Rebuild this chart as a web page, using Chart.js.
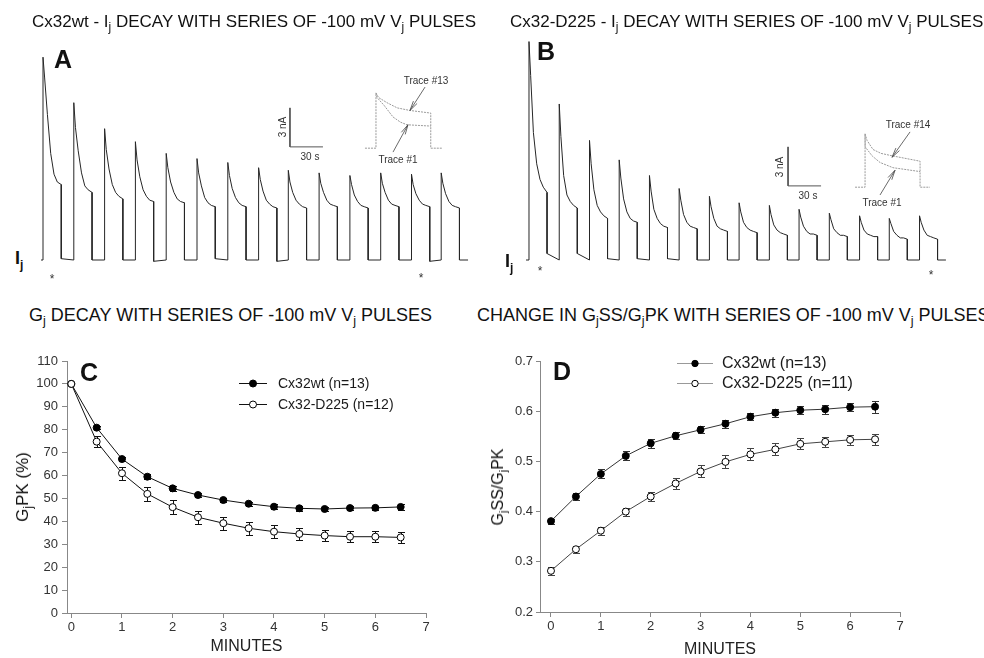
<!DOCTYPE html>
<html lang="en">
<head>
<meta charset="UTF-8">
<title>Gap junction decay with -100 mV Vj pulses</title>
<script src="https://cdn.jsdelivr.net/npm/chart.js"></script>
<style>
  body { margin: 0; background: #fff; }
  #page { position: relative; width: 984px; height: 658px; overflow: hidden;
          font-family: Arial, "Liberation Sans", sans-serif; color: #111; }
  canvas { position: absolute; }
  .txt { position: absolute; white-space: nowrap; }
  .title { font-size: 17px; line-height: 20px; }
  .title.big { font-size: 18px; }
  .title sub, .lab sub { font-size: 0.7em; vertical-align: -0.35em; line-height: 0; }
  .letter { font-size: 25px; line-height: 25px; font-weight: bold; }
  .small { font-size: 10px; line-height: 12px; color: #333; transform: translate(-50%, -50%); }
  .lab { transform: translate(-50%, -50%) rotate(-90deg); }
</style>
</head>
<body>
<div id="page">
  <canvas id="chartA" width="450" height="250" style="left:30px; top:30px"></canvas>
  <canvas id="chartB" width="450" height="250" style="left:510px; top:30px"></canvas>
  <canvas id="chartC" width="460" height="318" style="left:0px; top:340px"></canvas>
  <canvas id="chartD" width="500" height="318" style="left:470px; top:340px"></canvas>

  <!-- titles -->
  <div class="txt title" style="left:32px; top:12px">Cx32wt - I<sub>j</sub> DECAY WITH SERIES OF -100 mV V<sub>j</sub> PULSES</div>
  <div class="txt title" style="left:510px; top:12px">Cx32-D225 - I<sub>j</sub> DECAY WITH SERIES OF -100 mV V<sub>j</sub> PULSES</div>
  <div class="txt title big" style="left:29px; top:305px">G<sub>j</sub> DECAY WITH SERIES OF -100 mV V<sub>j</sub> PULSES</div>
  <div class="txt title big" style="left:477px; top:305px">CHANGE IN G<sub>j</sub>SS/G<sub>j</sub>PK WITH SERIES OF -100 mV V<sub>j</sub> PULSES</div>

  <!-- panel letters -->
  <div class="txt letter" style="left:54px; top:47px">A</div>
  <div class="txt letter" style="left:537px; top:39px">B</div>
  <div class="txt letter" style="left:80px; top:360px">C</div>
  <div class="txt letter" style="left:553px; top:359px">D</div>

  <!-- Ij labels and markers -->
  <div class="txt" style="left:15px; top:249px; font-size:18px; line-height:18px; font-weight:bold">I<sub style="font-size:12px; vertical-align:-0.45em">j</sub></div>
  <div class="txt" style="left:505px; top:252px; font-size:18px; line-height:18px; font-weight:bold">I<sub style="font-size:12px; vertical-align:-0.45em">j</sub></div>
  <div class="txt small" style="left:52px; top:279px; font-size:12px">*</div>
  <div class="txt small" style="left:421px; top:278px; font-size:12px">*</div>
  <div class="txt small" style="left:540px; top:271px; font-size:12px">*</div>
  <div class="txt small" style="left:931px; top:275px; font-size:12px">*</div>

  <!-- scale bars and inset labels -->
  <div class="txt small" style="left:283px; top:127px; transform:translate(-50%,-50%) rotate(-90deg)">3 nA</div>
  <div class="txt small" style="left:310px; top:157px">30 s</div>
  <div class="txt small" style="left:426px; top:81px">Trace #13</div>
  <div class="txt small" style="left:398px; top:160px">Trace #1</div>
  <div class="txt small" style="left:780px; top:167px; transform:translate(-50%,-50%) rotate(-90deg)">3 nA</div>
  <div class="txt small" style="left:808px; top:196px">30 s</div>
  <div class="txt small" style="left:908px; top:125px">Trace #14</div>
  <div class="txt small" style="left:882px; top:203px">Trace #1</div>

  <!-- y axis titles -->
  <div class="txt lab" style="left:23px; top:487px; font-size:17px">G<sub>j</sub>PK (%)</div>
  <div class="txt lab" style="left:498px; top:487px; font-size:16px">G<sub>j</sub>SS/G<sub>j</sub>PK</div>
</div>

<script>
// ---- panels A / B : junctional current traces (time in s, current in nA) ----
const pulseOffsetsA = [0, 1.5, 4, 7, 10, 13, 16.6];
const pulseStartsA = [0, 28, 56, 84, 112, 140, 168, 196, 223, 251, 279, 307, 335, 362];
const pulsesA = [
  [15.6, 14.0, 11.2, 8.2, 6.6, 6.0, 5.8],
  [12.1, 10.2, 8.4, 6.7, 5.7, 5.4, 5.2],
  [10.1, 8.5, 7.0, 5.8, 5.2, 4.9, 4.7],
  [9.1, 7.7, 6.4, 5.4, 4.9, 4.6, 4.5],
  [8.2, 7.1, 6.0, 5.2, 4.7, 4.5, 4.4],
  [7.8, 6.7, 5.7, 4.8, 4.4, 4.2, 4.1],
  [7.5, 6.5, 5.5, 4.8, 4.4, 4.2, 4.1],
  [7.1, 6.2, 5.3, 4.6, 4.3, 4.1, 4.0],
  [6.9, 6.0, 5.2, 4.6, 4.3, 4.1, 4.0],
  [6.7, 5.9, 5.2, 4.6, 4.3, 4.2, 4.1],
  [6.5, 5.8, 5.0, 4.5, 4.2, 4.1, 4.0],
  [6.7, 5.9, 5.2, 4.6, 4.3, 4.2, 4.1],
  [6.6, 5.8, 5.1, 4.6, 4.3, 4.2, 4.1],
  [6.7, 5.9, 5.1, 4.5, 4.2, 4.1, 4.0]
];
const tailsA = [0.1, 0, 0, -0.1, 0, 0.1, 0, -0.1, 0, 0, 0, 0, -0.1, 0];

const pulseOffsetsB = [0, 1.5, 4, 7, 10, 13, 16.4];
const pulseStartsB = [0, 27.5, 55, 82, 109.5, 136.5, 164, 191, 218.5, 245.5, 273, 300.5, 327.5, 355];
const pulsesB = [
  [16.8, 14.2, 9.8, 7.4, 6.2, 5.6, 5.2],
  [12.0, 9.5, 6.5, 5.0, 4.5, 4.2, 4.0],
  [9.2, 7.4, 5.4, 4.2, 3.7, 3.4, 3.2],
  [7.7, 6.3, 4.7, 3.7, 3.2, 3.0, 2.9],
  [6.5, 5.3, 3.9, 3.2, 2.8, 2.6, 2.5],
  [5.5, 4.6, 3.5, 2.9, 2.6, 2.5, 2.4],
  [4.9, 4.1, 3.2, 2.6, 2.4, 2.3, 2.2],
  [4.4, 3.7, 2.9, 2.5, 2.3, 2.2, 2.1],
  [4.2, 3.5, 2.7, 2.3, 2.1, 2.0, 1.9],
  [3.9, 3.3, 2.6, 2.2, 2.0, 2.0, 1.9],
  [3.6, 3.1, 2.4, 2.1, 1.9, 1.9, 1.8],
  [3.4, 2.9, 2.3, 2.0, 1.9, 1.8, 1.8],
  [3.2, 2.8, 2.2, 1.9, 1.7, 1.7, 1.6],
  [3.4, 2.9, 2.3, 1.9, 1.8, 1.7, 1.6]
];
const tailsB = [0.5, 0.5, 0.1, 0.1, 0.1, 0, 0, 0, 0, 0, 0, 0, 0, 0];

// inset overlays (first trace vs late trace), scale bars, arrows
const insetA13 = [[292.7, 8.6], [302.7, 8.6], [302.7, 12.85], [305, 12.5], [312.7, 12.1], [322, 11.7], [333.6, 11.5], [352.5, 11.3], [352.5, 8.6], [362.7, 8.6]];
const insetA1 = [[302.7, 12.85], [303.6, 12.5], [310, 11.9], [318.2, 11.0], [325, 10.6], [330.9, 10.4], [352.5, 10.3]];
const insetB14 = [[296.4, 5.6], [305.5, 5.6], [305.5, 9.7], [307.3, 9.2], [312.7, 8.5], [320, 8.2], [330.9, 8.0], [355.5, 7.6], [355.5, 5.6], [364.5, 5.6]];
const insetB1 = [[305.5, 9.7], [305.6, 8.7], [312, 8.0], [319.1, 7.5], [330.9, 7.1], [355.5, 6.8]];
const scaleBarA = [[224.5, 11.7], [224.5, 8.7], [254.5, 8.7]];
const scaleBarB = [[235.5, 8.7], [235.5, 5.7], [265.5, 5.7]];
const arrowsA = [[347.3, 13.3, 333.6, 11.5], [318.2, 8.3, 331.8, 10.4]];
const arrowsB = [[346.4, 9.85, 330, 7.9], [319.1, 5.0, 332.7, 6.9]];

// ---- panels C / D ----
const minutes = [0, 0.5, 1, 1.5, 2, 2.5, 3, 3.5, 4, 4.5, 5, 5.5, 6, 6.5];
const gpkWt = [100, 80.9, 67.2, 59.5, 54.4, 51.5, 49.3, 47.7, 46.4, 45.7, 45.4, 45.8, 45.9, 46.3];
const gpkWtErr = [0, 0.8, 1, 1, 1, 0.8, 0.8, 0.8, 1, 1, 1, 1, 1, 1.2];
const gpkD225 = [100, 74.8, 61.0, 52.0, 46.2, 41.8, 39.2, 37.0, 35.5, 34.5, 33.8, 33.3, 33.3, 33.0];
const gpkD225Err = [0, 2.3, 2.8, 3.2, 3.2, 2.9, 2.8, 2.8, 2.7, 2.5, 2.5, 2.5, 2.5, 2.5];
const ratioWt = [0.381, 0.430, 0.475, 0.511, 0.536, 0.551, 0.563, 0.575, 0.589, 0.597, 0.602, 0.604, 0.608, 0.609];
const ratioWtErr = [0.005, 0.007, 0.009, 0.009, 0.009, 0.007, 0.007, 0.008, 0.007, 0.008, 0.008, 0.009, 0.008, 0.012];
const ratioD225 = [0.282, 0.325, 0.362, 0.400, 0.430, 0.456, 0.480, 0.499, 0.514, 0.524, 0.535, 0.539, 0.543, 0.544];
const ratioD225Err = [0.008, 0.007, 0.008, 0.008, 0.009, 0.011, 0.012, 0.013, 0.012, 0.012, 0.011, 0.01, 0.01, 0.011];
const minuteTicks = [0, 1, 2, 3, 4, 5, 6, 7];
const gpkTicks = [0, 10, 20, 30, 40, 50, 60, 70, 80, 90, 100, 110];
const ratioTicks = [0.2, 0.3, 0.4, 0.5, 0.6, 0.7];

const FONT = 'Arial, "Liberation Sans", sans-serif';

// build the pulse train: rise, decay samples, drop, baseline gap
function buildTrace(starts, offsets, pulses, tails, tFirst, tLast) {
  const pts = [{x: tFirst, y: 0}];
  starts.forEach((t0, k) => {
    pts.push({x: t0, y: 0});
    offsets.forEach((o, j) => pts.push({x: t0 + o, y: pulses[k][j]}));
    const tOff = t0 + offsets[offsets.length - 1];
    pts.push({x: tOff, y: tails[k]});
    pts.push({x: k + 1 < starts.length ? starts[k + 1] : tLast, y: 0});
  });
  return pts;
}
const toXY = arr => arr.map(p => ({x: p[0], y: p[1]}));

const arrowPlugin = {
  id: 'arrows',
  afterDatasetsDraw(chart, args, opts) {
    const {ctx, scales: {x, y}} = chart;
    ctx.save();
    ctx.strokeStyle = '#444';
    ctx.lineWidth = 0.8;
    (opts.list || []).forEach(a => {
      const x1 = x.getPixelForValue(a[0]), y1 = y.getPixelForValue(a[1]);
      const x2 = x.getPixelForValue(a[2]), y2 = y.getPixelForValue(a[3]);
      const ang = Math.atan2(y2 - y1, x2 - x1);
      ctx.beginPath();
      ctx.moveTo(x1, y1); ctx.lineTo(x2, y2);
      [-0.22, 0.22].forEach(d => {
        ctx.moveTo(x2, y2);
        ctx.lineTo(x2 - 10 * Math.cos(ang + d), y2 - 10 * Math.sin(ang + d));
      });
      ctx.stroke();
    });
    ctx.restore();
  }
};

function traceChart(id, trace, insets, bar, arrows, xr, yr) {
  const line = (data, color, width, dash) => ({
    data, showLine: true, borderColor: color, borderWidth: width, borderDash: dash || [],
    pointRadius: 0, tension: 0
  });
  return new Chart(document.getElementById(id), {
    type: 'scatter',
    data: {
      datasets: [
        line(trace, '#262626', 1),
        line(toXY(insets[0]), '#9a9a9a', 1, [2, 1]),
        line(toXY(insets[1]), '#9a9a9a', 1, [2, 1]),
        line(toXY(bar), '#555', 1)
      ]
    },
    options: {
      animation: false, responsive: false,
      layout: {padding: 0},
      plugins: {legend: {display: false}, tooltip: {enabled: false}, arrows: {list: arrows}},
      scales: {
        x: {type: 'linear', display: false, min: xr[0], max: xr[1]},
        y: {type: 'linear', display: false, min: yr[0], max: yr[1]}
      }
    },
    plugins: [arrowPlugin]
  });
}

traceChart('chartA', buildTrace(pulseStartsA, pulseOffsetsA, pulsesA, tailsA, -1.8, 386.4),
  [insetA13, insetA1], scaleBarA, arrowsA, [-11.82, 397.27], [-1.538, 17.69]);
traceChart('chartB', buildTrace(pulseStartsB, pulseOffsetsB, pulsesB, tailsB, -2.7, 379),
  [insetB14, insetB1], scaleBarB, arrowsB, [-17.27, 391.8], [-1.538, 17.69]);

// error bars drawn under the markers
const errorBars = {
  id: 'errorBars',
  beforeDatasetsDraw(chart) {
    const {ctx, scales: {x, y}} = chart;
    chart.data.datasets.forEach(ds => {
      ctx.save();
      ctx.strokeStyle = ds.errorColor;
      ctx.lineWidth = 1;
      ds.data.forEach((p, i) => {
        const e = ds.errors[i];
        if (!e) return;
        const px = Math.round(x.getPixelForValue(p.x)) + 0.5;
        const top = Math.round(y.getPixelForValue(p.y + e)) + 0.5;
        const bot = Math.round(y.getPixelForValue(p.y - e)) + 0.5;
        ctx.beginPath();
        ctx.moveTo(px, top); ctx.lineTo(px, bot);
        ctx.moveTo(px - 3.5, top); ctx.lineTo(px + 3.5, top);
        ctx.moveTo(px - 3.5, bot); ctx.lineTo(px + 3.5, bot);
        ctx.stroke();
      });
      ctx.restore();
    });
  }
};

// legend with line + marker sample, placed inside the plot
const inlineLegend = {
  id: 'inlineLegend',
  afterDraw(chart, args, o) {
    const ctx = chart.ctx;
    ctx.save();
    chart.data.datasets.forEach((ds, i) => {
      const y = o.y + i * o.row;
      ctx.strokeStyle = o.lineColor;
      ctx.lineWidth = 1;
      ctx.beginPath();
      ctx.moveTo(o.x, y + 0.5); ctx.lineTo(o.x + o.len, y + 0.5);
      ctx.stroke();
      ctx.beginPath();
      ctx.arc(o.x + o.len / 2, y + 0.5, o.r, 0, Math.PI * 2);
      ctx.fillStyle = ds.pointBackgroundColor;
      ctx.fill();
      ctx.strokeStyle = ds.pointBorderColor;
      ctx.stroke();
      ctx.fillStyle = '#1a1a1a';
      ctx.font = o.size + 'px ' + FONT;
      ctx.textBaseline = 'middle';
      ctx.fillText(ds.label, o.textX, y + 1);
    });
    ctx.restore();
  }
};

function series(label, ys, errs, fill, color, order) {
  return {
    label, order,
    data: minutes.map((m, i) => ({x: m, y: ys[i]})),
    errors: errs, errorColor: color,
    showLine: true, borderColor: color, borderWidth: 1, tension: 0,
    pointRadius: 3.5, pointBorderWidth: 1,
    pointBackgroundColor: fill, pointBorderColor: '#000'
  };
}

function axis(min, max, ticks, size, tickLen, pad, fmt, extra) {
  return Object.assign({
    type: 'linear', min, max,
    afterBuildTicks: s => { s.ticks = ticks.map(v => ({value: v})); },
    grid: {drawOnChartArea: false, drawTicks: true, tickLength: tickLen, color: '#888'},
    border: {display: true, color: '#888'},
    ticks: {font: {family: FONT, size}, color: '#333', padding: pad, autoSkip: false, maxRotation: 0,
            callback: fmt}
  }, extra);
}

new Chart(document.getElementById('chartC'), {
  type: 'scatter',
  data: {
    datasets: [
      series('Cx32wt (n=13)', gpkWt, gpkWtErr, '#000', '#111', 1),
      series('Cx32-D225 (n=12)', gpkD225, gpkD225Err, '#fff', '#111', 0)
    ]
  },
  options: {
    animation: false, responsive: false,
    layout: {padding: {top: 21, right: 34, left: 0, bottom: 0}},
    plugins: {
      legend: {display: false}, tooltip: {enabled: false},
      inlineLegend: {x: 239, y: 43, row: 21, len: 28, r: 3.5, textX: 278, size: 14, lineColor: '#111'}
    },
    scales: {
      x: axis(-0.085, 7, minuteTicks, 13, 5, 2, v => v, {
        afterFit: s => { s.height = 45; },
        title: {display: true, text: 'MINUTES', color: '#222',
                font: {family: FONT, size: 16, lineHeight: 1}, padding: {top: 0, bottom: 3}}
      }),
      y: axis(0, 110, gpkTicks, 13, 5, 4, v => v, {afterFit: s => { s.width = 67; }})
    }
  },
  plugins: [errorBars, inlineLegend]
});

new Chart(document.getElementById('chartD'), {
  type: 'scatter',
  data: {
    datasets: [
      series('Cx32wt (n=13)', ratioWt, ratioWtErr, '#000', '#333', 1),
      series('Cx32-D225 (n=11)', ratioD225, ratioD225Err, '#fff', '#444', 0)
    ]
  },
  options: {
    animation: false, responsive: false,
    layout: {padding: {top: 21, right: 70, left: 0, bottom: 0}},
    plugins: {
      legend: {display: false}, tooltip: {enabled: false},
      inlineLegend: {x: 207, y: 23, row: 20, len: 36, r: 3.2, textX: 252, size: 16, lineColor: '#999'}
    },
    scales: {
      x: axis(-0.22, 7, minuteTicks, 13, 5, 2, v => v, {
        afterFit: s => { s.height = 46; },
        title: {display: true, text: 'MINUTES', color: '#222',
                font: {family: FONT, size: 16, lineHeight: 1}, padding: {top: 0, bottom: 0}}
      }),
      y: axis(0.2, 0.7, ratioTicks, 13, 4, 3, v => v.toFixed(1), {afterFit: s => { s.width = 70; }})
    }
  },
  plugins: [errorBars, inlineLegend]
});
</script>
</body>
</html>
